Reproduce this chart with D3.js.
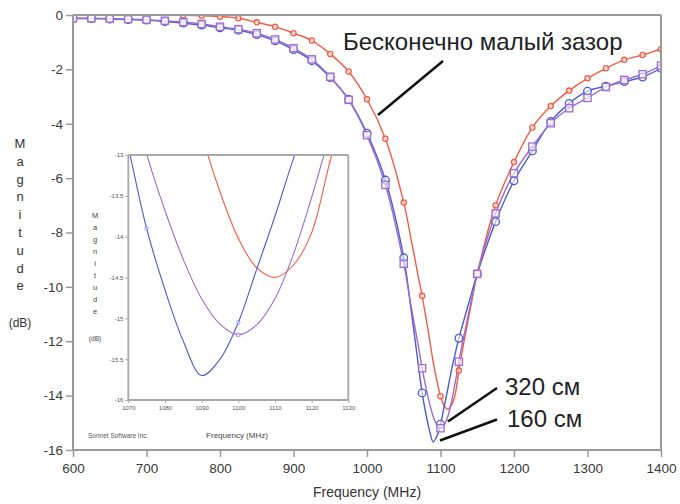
<!DOCTYPE html>
<html><head><meta charset="utf-8">
<script src="https://cdn.jsdelivr.net/npm/d3@7"></script>
<style>
html,body{margin:0;padding:0;background:#fff;}
svg text{font-family:"Liberation Sans",Arial,sans-serif;}
</style></head>
<body><svg id="c" width="680" height="504"></svg>
<script>
// ---- data ----
const freq = [600,625,650,675,700,725,750,775,800,825,850,875,900,925,950,975,1000,1025,1050,1060,1070,1075,1080,1085,1090,1095,1100,1105,1110,1115,1120,1125,1130,1140,1150,1175,1200,1225,1250,1275,1300,1325,1350,1375,1400];
const gap320 = [-0.12,-0.12,-0.13,-0.15,-0.17,-0.21,-0.26,-0.33,-0.43,-0.52,-0.67,-0.9,-1.22,-1.63,-2.27,-3.12,-4.42,-6.25,-9.15,-10.7,-12.2,-12.99,-13.68,-14.28,-14.76,-15.07,-15.2,-15.08,-14.76,-14.22,-13.52,-12.75,-12.05,-10.75,-9.52,-7.3,-5.82,-4.84,-3.98,-3.43,-3.05,-2.65,-2.39,-2.18,-1.86];
const gap160 = [-0.13,-0.13,-0.15,-0.17,-0.19,-0.24,-0.3,-0.37,-0.47,-0.56,-0.72,-0.95,-1.27,-1.68,-2.3,-3.1,-4.35,-6.07,-8.93,-10.85,-12.9,-13.9,-14.65,-15.28,-15.7,-15.5,-15.05,-14.4,-13.75,-13.05,-12.45,-11.89,-11.4,-10.45,-9.52,-7.6,-6.1,-5.0,-3.92,-3.25,-2.8,-2.62,-2.45,-2.28,-1.96];
const gapInf = [null,null,null,null,null,null,-0.01,-0.03,-0.06,-0.12,-0.27,-0.43,-0.67,-0.94,-1.43,-2.08,-3.1,-4.55,-6.9,-8.25,-9.65,-10.33,-11.1,-11.9,-12.75,-13.45,-14.02,-14.38,-14.5,-14.35,-13.95,-13.08,-12.3,-10.9,-9.52,-7.0,-5.41,-4.14,-3.35,-2.78,-2.33,-1.96,-1.65,-1.47,-1.26];
const xTicks = [600,700,800,900,1000,1100,1200,1300,1400];
const yTicks = [0,-2,-4,-6,-8,-10,-12,-14,-16];
const insetXTicks = [1070,1080,1090,1100,1110,1120,1130];
const insetYTicks = [-13,-13.5,-14,-14.5,-15,-15.5,-16];
const labelInf = "Бесконечно малый зазор";
const label320 = "320 см";
const label160 = "160 см";

const svg = d3.select("#c");
const C = {inf:"#f25c44", b160:"#4c5ccc", p320:"#9c6bd2"};
const series = [
  {key:"inf", vals:gapInf, color:C.inf, marker:"circle", r:2.6},
  {key:"b160", vals:gap160, color:C.b160, marker:"circle", r:3.8},
  {key:"p320", vals:gap320, color:C.p320, marker:"square", r:3.6}
];
const rows = s => freq.map((f,i)=>({f, v:s.vals[i]})).filter(d=>d.v!==null);

// ---- main chart ----
const x = d3.scaleLinear().domain([600,1400]).range([73,661]);
const y = d3.scaleLinear().domain([-16,0]).range([450,15]);
const defs = svg.append("defs");
defs.append("clipPath").attr("id","mclip").append("rect")
  .attr("x",73).attr("y",14).attr("width",588).attr("height",436);

const g = svg.append("g");
const plot = g.append("g").attr("clip-path","url(#mclip)");
function drawSeries(parent, xs, ys, lw, msize){
  series.forEach(s=>{
    const d = rows(s);
    parent.append("path").datum(d)
      .attr("fill","none").attr("stroke",s.color).attr("stroke-width",lw)
      .attr("d", d3.line().x(p=>xs(p.f)).y(p=>ys(p.v)).curve(d3.curveCatmullRom.alpha(0.5)));
  });
  series.forEach(s=>{
    const m = rows(s).filter(p=>p.f%25===0);
    const r = s.r*msize;
    if(s.marker==="circle"){
      parent.selectAll(null).data(m).enter().append("circle")
        .attr("cx",p=>xs(p.f)).attr("cy",p=>ys(p.v)).attr("r",r)
        .attr("fill","#fff").attr("fill-opacity",0.6).attr("stroke",s.color).attr("stroke-width",1.3*msize);
    } else {
      parent.selectAll(null).data(m).enter().append("rect")
        .attr("x",p=>xs(p.f)-r).attr("y",p=>ys(p.v)-r).attr("width",2*r).attr("height",2*r)
        .attr("fill","#fff").attr("fill-opacity",0.6).attr("stroke",s.color).attr("stroke-width",1.3*msize);
    }
  });
}
drawSeries(plot, x, y, 1.4, 1);

// frame
const axCol = "#9a9a9a";
g.append("line").attr("x1",73).attr("x2",661).attr("y1",15).attr("y2",15).attr("stroke",axCol).attr("stroke-width",2);
g.append("line").attr("x1",661).attr("x2",661).attr("y1",15).attr("y2",450).attr("stroke",axCol).attr("stroke-width",2);

const xAxis = g.append("g").attr("transform","translate(0,450)")
  .call(d3.axisBottom(x).tickValues(xTicks).tickSize(7).tickPadding(6).tickFormat(d=>String(d)));
const yAxis = g.append("g").attr("transform","translate(73,0)")
  .call(d3.axisLeft(y).tickValues(yTicks).tickSize(7).tickPadding(3).tickFormat(d=>String(d)));
[xAxis,yAxis].forEach(a=>{
  a.select(".domain").attr("stroke",axCol).attr("stroke-width",2);
  a.selectAll(".tick line").attr("stroke",axCol).attr("stroke-width",1.5);
  a.selectAll(".tick text").attr("fill","#3a3a3a").attr("font-size",13.5).attr("font-family","Liberation Sans, Arial, sans-serif");
});
yAxis.select(".domain").attr("d","M0,450V15");
xAxis.select(".domain").attr("d","M73,0H661");

g.append("text").attr("x",367).attr("y",497).attr("text-anchor","middle")
  .attr("font-size",14).attr("fill","#333").text("Frequency (MHz)");
const mag = "Magnitude".split("");
g.selectAll(null).data(mag).enter().append("text")
  .attr("x",20).attr("y",(d,i)=>148+i*17.8).attr("text-anchor","middle")
  .attr("font-size",13).attr("fill","#333").text(d=>d);
g.append("text").attr("x",20).attr("y",327).attr("text-anchor","middle")
  .attr("font-size",12).attr("fill","#333").text("(dB)");

// ---- inset ----
const ix = d3.scaleLinear().domain([1070,1130]).range([128.3,348.3]);
const iy = d3.scaleLinear().domain([-16,-13]).range([400,155]);
const ins = svg.append("g");
ins.append("rect").attr("x",86).attr("y",148).attr("width",272).attr("height",298).attr("fill","#fff");
defs.append("clipPath").attr("id","iclip").append("rect")
  .attr("x",128.3).attr("y",155).attr("width",220).attr("height",245);
const iplot = ins.append("g").attr("clip-path","url(#iclip)");
drawSeries(iplot, ix, iy, 1.1, 0.45);
const iCol = "#a8a8a8";
ins.append("line").attr("x1",128.3).attr("x2",348.3).attr("y1",155).attr("y2",155).attr("stroke",iCol).attr("stroke-width",1.8);
ins.append("line").attr("x1",348.3).attr("x2",348.3).attr("y1",155).attr("y2",400).attr("stroke",iCol).attr("stroke-width",1.8);
const ixA = ins.append("g").attr("transform","translate(0,400)")
  .call(d3.axisBottom(ix).tickValues(insetXTicks).tickSize(3).tickPadding(3).tickFormat(d=>String(d)));
const iyA = ins.append("g").attr("transform","translate(128.3,0)")
  .call(d3.axisLeft(iy).tickValues(insetYTicks).tickSize(3).tickPadding(2).tickFormat(d=>String(d)));
[ixA,iyA].forEach(a=>{
  a.select(".domain").attr("stroke",iCol).attr("stroke-width",1.8);
  a.selectAll(".tick line").attr("stroke",iCol);
  a.selectAll(".tick text").attr("fill","#555").attr("font-size",6).attr("font-family","Liberation Sans, Arial, sans-serif");
});
iyA.select(".domain").attr("d","M0,400V155");
ixA.select(".domain").attr("d","M128.3,0H348.3");
ins.append("text").attr("x",237).attr("y",438).attr("text-anchor","middle")
  .attr("font-size",8).attr("fill","#444").text("Frequency (MHz)");
ins.append("text").attr("x",88).attr("y",438)
  .attr("font-size",6.5).attr("fill","#555").text("Sonnet Software Inc.");
ins.selectAll(null).data(mag).enter().append("text")
  .attr("x",95).attr("y",(d,i)=>218+i*12).attr("text-anchor","middle")
  .attr("font-size",7.5).attr("fill","#444").text(d=>d);
ins.append("text").attr("x",95).attr("y",341).attr("text-anchor","middle")
  .attr("font-size",6.5).attr("fill","#444").text("(dB)");

// ---- annotations ----
const an = svg.append("g");
an.append("text").attr("x",343).attr("y",50).attr("font-size",24).attr("fill","#222").text(labelInf);
an.append("line").attr("x1",443).attr("y1",61).attr("x2",378).attr("y2",115).attr("stroke","#111").attr("stroke-width",2.5);
an.append("text").attr("x",505).attr("y",395).attr("font-size",24).attr("fill","#222").text(label320);
an.append("line").attr("x1",497).attr("y1",388).attr("x2",448).attr("y2",421.5).attr("stroke","#111").attr("stroke-width",2.5);
an.append("text").attr("x",507).attr("y",427).attr("font-size",24).attr("fill","#222").text(label160);
an.append("line").attr("x1",497).attr("y1",419.5).attr("x2",440).attr("y2",440.5).attr("stroke","#111").attr("stroke-width",2.5);
</script></body></html>
